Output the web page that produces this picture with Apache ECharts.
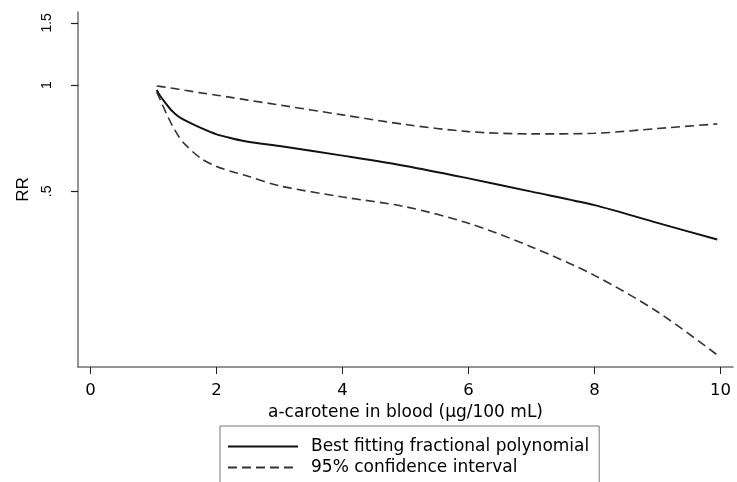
<!DOCTYPE html>
<html>
<head>
<meta charset="utf-8">
<script src="https://cdn.jsdelivr.net/npm/echarts@6/dist/echarts.min.js"></script>
<style>
  html, body { margin: 0; padding: 0; background: #fff; }
  #chart { width: 737px; height: 482px; }
</style>
</head>
<body>
<div id="chart"></div>
<script>
// a-carotene level (x) and relative risk
const xValues = [1.05, 1.1, 1.2, 1.3, 1.4, 1.5, 1.75, 2, 2.25, 2.5, 3, 4, 5, 6, 7, 8, 9, 9.95]
const bestFit = [0.968, 0.934, 0.884, 0.842, 0.813, 0.794, 0.756, 0.725, 0.706, 0.691, 0.672, 0.631, 0.590, 0.544, 0.499, 0.457, 0.407, 0.365]
const ciUpper = [0.994, 0.991, 0.985, 0.979, 0.973, 0.966, 0.950, 0.936, 0.921, 0.906, 0.878, 0.823, 0.773, 0.738, 0.727, 0.730, 0.753, 0.776]
const ciLower = [0.955, 0.913, 0.833, 0.766, 0.715, 0.679, 0.620, 0.588, 0.568, 0.552, 0.518, 0.482, 0.452, 0.406, 0.348, 0.289, 0.228, 0.172]

const xTicks = [0, 2, 4, 6, 8, 10]
const yTicks = [0.5, 1, 1.5]
const yTickLabels = { 0.5: '.5', 1: '1', 1.5: '1.5' }

const pair = (ys) => xValues.map((x, i) => [x, ys[i]])

const chart = echarts.init(document.getElementById('chart'))

const font = '"DejaVu Sans", sans-serif'
const narrowFont = '"Liberation Sans", Arial, sans-serif'
const axisGrey = '#707070'

const option = {
  animation: false,
  textStyle: { fontFamily: font, color: '#000' },
  grid: { left: 78, right: 4, top: 12, bottom: 115 },
  xAxis: {
    type: 'value',
    min: -0.2,
    max: 10.2,
    name: 'a-carotene in blood (μg/100 mL)',
    nameLocation: 'middle',
    nameGap: 34,
    nameTextStyle: { fontSize: 17, color: '#000', fontFamily: font },
    axisLine: { show: true, onZero: false, lineStyle: { color: axisGrey, width: 1.5 } },
    axisTick: { show: true, length: 7, customValues: xTicks, lineStyle: { color: '#222', width: 1 } },
    axisLabel: { customValues: xTicks, fontSize: 16.5, color: '#000', margin: 15, fontFamily: font },
    splitLine: { show: false }
  },
  yAxis: {
    type: 'log',
    logBase: 10,
    min: 0.159,
    max: 1.61,
    name: 'RR',
    nameLocation: 'middle',
    nameRotate: 90,
    nameGap: 46,
    nameTextStyle: { fontSize: 17, color: '#000', fontFamily: narrowFont },
    axisLine: { show: true, onZero: false, lineStyle: { color: axisGrey, width: 1.5 } },
    axisTick: { show: true, length: 7, customValues: yTicks, lineStyle: { color: '#222', width: 1.2 } },
    axisLabel: {
      customValues: yTicks,
      rotate: 90,
      fontSize: 14,
      color: '#000',
      margin: 24,
      fontFamily: narrowFont,
      formatter: (v) => yTickLabels[v] ?? String(v)
    },
    splitLine: { show: false }
  },
  legend: {
    orient: 'vertical',
    left: 220,
    top: 426,
    height: 300,
    padding: [12, 10, 20, 7],
    itemWidth: 70,
    itemHeight: 14,
    itemGap: 4,
    borderColor: '#777',
    borderWidth: 1,
    itemStyle: { opacity: 0 },
    textStyle: { fontSize: 17, color: '#000', fontFamily: font, padding: [0, 0, 0, 8] },
    data: ['Best fitting fractional polynomial', '95% confidence interval']
  },
  series: [
    {
      name: 'Best fitting fractional polynomial',
      type: 'line',
      data: pair(bestFit),
      smooth: 0.3,
      symbol: 'none',
      lineStyle: { color: '#111', width: 2, type: 'solid' },
      itemStyle: { color: '#111' }
    },
    {
      name: '95% confidence interval',
      type: 'line',
      data: pair(ciUpper),
      smooth: 0.3,
      symbol: 'none',
      lineStyle: { color: '#333', width: 1.6, type: [9, 5] },
      itemStyle: { color: '#333' }
    },
    {
      name: '95% confidence interval',
      type: 'line',
      data: pair(ciLower),
      smooth: 0.3,
      symbol: 'none',
      lineStyle: { color: '#333', width: 1.6, type: [9, 5] },
      itemStyle: { color: '#333' }
    }
  ]
}

chart.setOption(option)
window.addEventListener('resize', () => chart?.resize())
</script>
</body>
</html>
